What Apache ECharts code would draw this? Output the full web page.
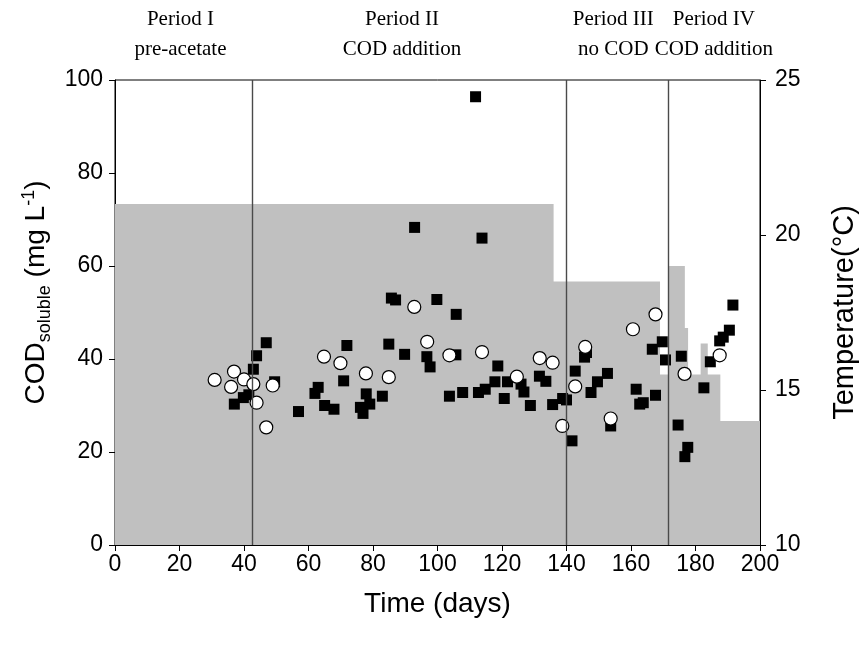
<!DOCTYPE html>
<html><head><meta charset="utf-8">
<script src="https://cdn.jsdelivr.net/npm/echarts@6/dist/echarts.min.js"></script>
<style>html,body{margin:0;padding:0;background:#fff}#c{width:864px;height:647px}</style>
</head><body><div id="c"></div>
<script>
// Filled squares (COD soluble)
const squareDays = [37.0,39.8,41.5,42.9,43.9,46.9,49.5,56.9,62.0,63.0,65.0,67.9,70.9,71.9,76.1,76.9,77.9,79.0,82.9,84.9,85.7,87.0,89.8,92.9,96.7,97.7,99.8,103.7,105.7,105.8,107.8,111.8,112.7,113.8,114.8,117.8,118.7,120.7,121.7,125.9,126.8,128.8,131.6,133.6,135.7,138.8,140.0,141.7,142.7,145.6,146.2,147.6,149.6,152.7,153.7,161.6,162.7,163.8,166.6,167.6,169.7,170.7,174.6,175.6,176.7,177.6,182.6,184.6,187.5,188.6,190.5,191.6];
const squareCOD = [30.3,31.7,32.3,37.8,40.7,43.5,35.1,28.7,32.6,33.9,30.0,29.2,35.3,42.9,29.6,28.3,32.5,30.3,32.0,43.2,53.1,52.7,41.0,68.3,40.5,38.3,52.8,32.0,40.9,49.6,32.8,96.4,32.8,66.0,33.5,35.1,38.5,31.5,35.1,34.6,32.9,30.0,36.3,35.2,30.2,31.5,31.2,22.4,37.4,40.4,41.4,32.8,35.1,36.9,25.6,33.5,30.3,30.6,42.1,32.2,43.7,39.8,25.8,40.6,19.0,21.0,33.8,39.4,43.9,44.7,46.2,51.6];
// Open circles
const circleDays = [30.9,36.0,36.9,40.0,42.9,43.9,46.9,48.9,64.8,69.9,77.8,84.9,92.8,96.8,103.7,113.8,124.6,131.7,135.7,138.7,142.7,145.8,153.7,160.6,167.6,176.6,187.5];
const circleCOD = [35.5,34.0,37.3,35.6,34.6,30.6,25.3,34.3,40.5,39.1,36.9,36.1,51.2,43.7,40.8,41.5,36.2,40.2,39.2,25.6,34.1,42.6,27.2,46.4,49.6,36.8,40.8];
// Temperature steps (value holds from each day until the next)
const tempDays = [0,136,169,171.5,176.7,177.7,181.6,183.8,187.7,200];
const tempVals = [21,18.5,15.5,19,17,15.5,16.5,15.5,14,14];
// Period boundaries and labels
const periodBounds = [42.5,140,171.5];
const periodTitles = ['Period I','Period II','Period III','Period IV'];
const periodSubtitles = ['pre-acetate','COD addition','no COD','COD addition'];
const periodLabelDays = [20.3,89.0,154.5,185.7];
// Axes
const xTicks = {min:0,max:200,interval:20};
const yLeftTicks = {min:0,max:100,interval:20};
const yRightTicks = {min:10,max:25,interval:5};

const zip = (a,b) => a.map((v,i)=>[v,b[i]]);
const chart = echarts.init(document.getElementById('c'));
const sans = 'Liberation Sans, Arial, sans-serif';
const serif = 'Liberation Serif, Times New Roman, serif';
const axisCommon = {
  axisLine:{show:true,lineStyle:{color:'#000',width:1}},
  axisTick:{show:true,inside:false,length:6,lineStyle:{color:'#000',width:1}},
  splitLine:{show:false}
};
const option = {
  animation:false,
  backgroundColor:'#fff',
  grid:{left:115,right:104,top:80,bottom:102,containLabel:false,outerBoundsMode:'none',
        show:true,borderColor:'#000',borderWidth:1,backgroundColor:'transparent'},
  xAxis:Object.assign({type:'value',min:xTicks.min,max:xTicks.max,interval:xTicks.interval,
    name:'Time (days)',nameLocation:'middle',nameGap:45,
    nameTextStyle:{color:'#000',fontFamily:sans,fontSize:28}},axisCommon,
    {axisLabel:{color:'#000',fontFamily:sans,fontSize:23,margin:8}}),
  yAxis:[
    Object.assign({type:'value',min:yLeftTicks.min,max:yLeftTicks.max,interval:yLeftTicks.interval,
      name:'{a|COD}{b|soluble}{a| (mg L}{c|-1}{a|)}',nameLocation:'middle',nameGap:60,nameRotate:90,
      nameTextStyle:{color:'#000',fontFamily:sans,fontSize:28,padding:[0,0,0,40],
        rich:{a:{fontSize:28,fontFamily:sans,color:'#000',lineHeight:34,verticalAlign:'middle'},
              b:{fontSize:18,fontFamily:sans,color:'#000',lineHeight:34,verticalAlign:'bottom'},
              c:{fontSize:18,fontFamily:sans,color:'#000',lineHeight:34,verticalAlign:'top'}}},
      axisLabel:{color:'#000',fontFamily:sans,fontSize:23,margin:12}},axisCommon),
    Object.assign({type:'value',min:yRightTicks.min,max:yRightTicks.max,interval:yRightTicks.interval,position:'right',
      name:'Temperature(°C)',nameLocation:'middle',nameGap:70,nameRotate:90,
      nameTextStyle:{color:'#000',fontFamily:sans,fontSize:29},
      axisLabel:{color:'#000',fontFamily:sans,fontSize:23,margin:15}},axisCommon)
  ],
  series:[
    {type:'line',yAxisIndex:1,step:'end',data:zip(tempDays,tempVals),symbol:'none',z:1,
     lineStyle:{width:0,color:'#c0c0c0'},areaStyle:{color:'#c0c0c0',origin:'start',opacity:1},
     markLine:{silent:true,symbol:'none',label:{show:false},lineStyle:{color:'#4a4a4a',width:1.4,type:'solid'},
       data:periodBounds.map(d=>({xAxis:d}))}},
    {type:'scatter',name:'squares',data:zip(squareDays,squareCOD),symbol:'rect',symbolSize:11,z:3,
     itemStyle:{color:'#000',opacity:1}},
    {type:'scatter',name:'circles',data:zip(circleDays,circleCOD),symbol:'circle',symbolSize:13,z:4,
     itemStyle:{color:'#fff',borderColor:'#000',borderWidth:1.2,opacity:1}}
  ]
};
chart.setOption(option);
const g = [];
periodLabelDays.forEach((d,i)=>{
  const x = chart.convertToPixel({xAxisIndex:0},d);
  g.push({type:'text',x:x,y:19,style:{text:periodTitles[i],font:'21px '+serif,fill:'#000',textAlign:'center',textVerticalAlign:'middle'}});
  g.push({type:'text',x:x,y:49,style:{text:periodSubtitles[i],font:'21px '+serif,fill:'#000',textAlign:'center',textVerticalAlign:'middle'}});
});
chart.setOption({graphic:g});
</script></body></html>
